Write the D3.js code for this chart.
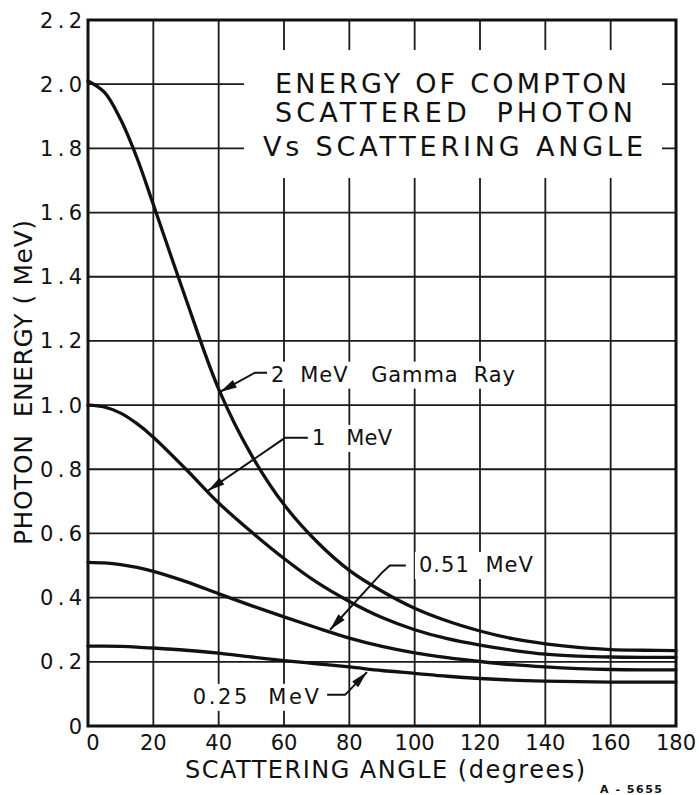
<!DOCTYPE html>
<html>
<head>
<meta charset="utf-8">
<script src="https://cdn.jsdelivr.net/npm/d3@7"></script>
<style>
  html, body { margin: 0; padding: 0; background: #fff; }
  svg { display: block; }
  text { font-family: "DejaVu Sans", "Liberation Sans", sans-serif; fill: #111; white-space: pre; }
</style>
</head>
<body>
<svg id="chart" width="699" height="795"></svg>
<script>
// ---------- data ----------
const angles   = [0, 5, 10, 15, 20, 30, 40, 50, 60, 70, 80, 90, 100, 110, 120, 130, 140, 150, 160, 170, 180];
const e2MeV    = [2.01, 1.975, 1.89, 1.77, 1.625, 1.33, 1.05, 0.845, 0.69, 0.575, 0.485, 0.42, 0.367, 0.327, 0.296, 0.272, 0.256, 0.245, 0.238, 0.236, 0.235];
const e1MeV    = [1.00, 0.994, 0.975, 0.942, 0.90, 0.80, 0.695, 0.605, 0.522, 0.448, 0.388, 0.338, 0.300, 0.272, 0.252, 0.236, 0.224, 0.218, 0.215, 0.214, 0.214];
const e051MeV  = [0.51, 0.508, 0.503, 0.494, 0.482, 0.450, 0.412, 0.375, 0.340, 0.306, 0.274, 0.248, 0.228, 0.213, 0.201, 0.191, 0.184, 0.179, 0.176, 0.175, 0.175];
const e025MeV  = [0.249, 0.249, 0.248, 0.246, 0.243, 0.236, 0.227, 0.215, 0.204, 0.194, 0.184, 0.173, 0.164, 0.155, 0.148, 0.143, 0.140, 0.138, 0.137, 0.137, 0.137];
const series   = [e2MeV, e1MeV, e051MeV, e025MeV];

const xTicks = [0, 20, 40, 60, 80, 100, 120, 140, 160, 180];
const yTicks = [0, 0.2, 0.4, 0.6, 0.8, 1.0, 1.2, 1.4, 1.6, 1.8, 2.0, 2.2];
const yTickLabels = ["0", "0.2", "0.4", "0.6", "0.8", "1.0", "1.2", "1.4", "1.6", "1.8", "2.0", "2.2"];

const titleLines = ["ENERGY OF COMPTON", "SCATTERED  PHOTON", "Vs SCATTERING ANGLE"];
const xTitle = "SCATTERING ANGLE (degrees)";
const yTitle = "PHOTON  ENERGY ( MeV)";

// annotations: label text, label start (deg, MeV baseline), label width, leader points (deg, MeV) ending at arrow tip
const annLabels  = ["2  MeV   Gamma  Ray", "1   MeV", "0.51  MeV", "0.25  MeV"];
const annText    = [[56.0, 1.073], [68.6, 0.876], [101.3, 0.480], [32.1, 0.069]];
const annWidth   = [244, 80, 114, 126];
const annLeaders = [
  [[54.8, 1.101], [51.1, 1.101], [40.4, 1.041]],
  [[67.3, 0.898], [60.3, 0.898], [36.7, 0.733]],
  [[97.3, 0.500], [92.4, 0.500], [90.0, 0.478], [74.1, 0.300]],
  [[73.2, 0.097], [78.7, 0.097], [85.4, 0.168]]
];

// ---------- layout ----------
const W = 699, H = 795;
const mLeft = 88, mRight = 676, mTop = 20, mBottom = 726;
const x = d3.scaleLinear().domain([0, 180]).range([mLeft, mRight]);
const y = d3.scaleLinear().domain([0, 2.2]).range([mBottom, mTop]);

const svg = d3.select("#chart");
svg.append("rect").attr("width", W).attr("height", H).attr("fill", "#fff");

// grid
const grid = svg.append("g").attr("stroke", "#1a1a1a").attr("stroke-width", 1.8);
grid.selectAll("line.v").data(xTicks.slice(1, -1)).enter().append("line")
  .attr("x1", d => x(d)).attr("x2", d => x(d)).attr("y1", mTop).attr("y2", mBottom);
grid.selectAll("line.h").data(yTicks.slice(1, -1)).enter().append("line")
  .attr("x1", mLeft).attr("x2", mRight).attr("y1", d => y(d)).attr("y2", d => y(d));

// title box (breaks the grid)
svg.append("rect").attr("x", 244).attr("y", 50).attr("width", 418).attr("height", 128).attr("fill", "#fff");
const titleBase = [93, 122, 156];
const titleX = [275, 275, 263];
const titleW = [352, 358, 380];
titleLines.forEach((t, i) => {
  svg.append("text").attr("x", titleX[i]).attr("y", titleBase[i])
    .attr("font-size", 27).attr("textLength", titleW[i]).attr("lengthAdjust", "spacing")
    .text(t);
});

// annotation label backgrounds
annLabels.forEach((t, i) => {
  const tx = x(annText[i][0]), ty = y(annText[i][1]);
  svg.append("rect").attr("x", tx - 4).attr("y", ty - 20).attr("width", annWidth[i] + 8).attr("height", 27)
    .attr("fill", "#fff");
});

// frame
svg.append("rect").attr("x", mLeft).attr("y", mTop).attr("width", mRight - mLeft).attr("height", mBottom - mTop)
  .attr("fill", "none").attr("stroke", "#111").attr("stroke-width", 3);

// curves
const line = d3.line().x((d, i) => x(angles[i])).y(d => y(d)).curve(d3.curveCatmullRom.alpha(0.5));
svg.append("g").selectAll("path").data(series).enter().append("path")
  .attr("d", d => line(d)).attr("fill", "none").attr("stroke", "#111")
  .attr("stroke-width", 3.3).attr("stroke-linejoin", "round").attr("stroke-linecap", "round");

// leaders + arrowheads
annLeaders.forEach(pts => {
  const px = pts.map(p => [x(p[0]), y(p[1])]);
  svg.append("path").attr("d", d3.line()(px)).attr("fill", "none").attr("stroke", "#111").attr("stroke-width", 2);
  const tip = px[px.length - 1], prev = px[px.length - 2];
  const dx = tip[0] - prev[0], dy = tip[1] - prev[1], len = Math.hypot(dx, dy);
  const ux = dx / len, uy = dy / len;
  const L = 17, hw = 4.2;
  const bx = tip[0] - ux * L, by = tip[1] - uy * L;
  svg.append("path")
    .attr("d", `M${tip[0]},${tip[1]} L${bx - uy * hw},${by + ux * hw} L${bx + uy * hw},${by - ux * hw} Z`)
    .attr("fill", "#111");
});

// annotation labels
annLabels.forEach((t, i) => {
  svg.append("text").attr("x", x(annText[i][0])).attr("y", y(annText[i][1]))
    .attr("font-size", 21).attr("textLength", annWidth[i]).attr("lengthAdjust", "spacing").text(t);
});

// y tick labels
svg.append("g").selectAll("text").data(yTicks).enter().append("text")
  .attr("x", 82).attr("y", d => y(d)).attr("dy", "0.36em").attr("text-anchor", "end")
  .attr("font-size", 21)
  .each(function(d, i) {
    const s = d3.select(this).text(yTickLabels[i]);
    if (yTickLabels[i].length > 1) s.attr("textLength", 42).attr("lengthAdjust", "spacing");
  });

// x tick labels
svg.append("g").selectAll("text").data(xTicks).enter().append("text")
  .attr("x", d => x(d) + (d === 0 ? 5 : 0)).attr("y", 742).attr("dy", "0.36em").attr("text-anchor", "middle")
  .attr("font-size", 21).text(d => d);

// axis titles
svg.append("text").attr("x", 185).attr("y", 778).attr("font-size", 24)
  .attr("textLength", 400).attr("lengthAdjust", "spacing").text(xTitle);
svg.append("text").attr("transform", "translate(32,545) rotate(-90)").attr("font-size", 25)
  .attr("textLength", 325).attr("lengthAdjust", "spacing").text(yTitle);

// drawing number
svg.append("text").attr("x", 600).attr("y", 793).attr("font-size", 11).attr("font-weight", "bold")
  .attr("textLength", 62).attr("lengthAdjust", "spacing").text("A - 5655");
</script>
</body>
</html>
